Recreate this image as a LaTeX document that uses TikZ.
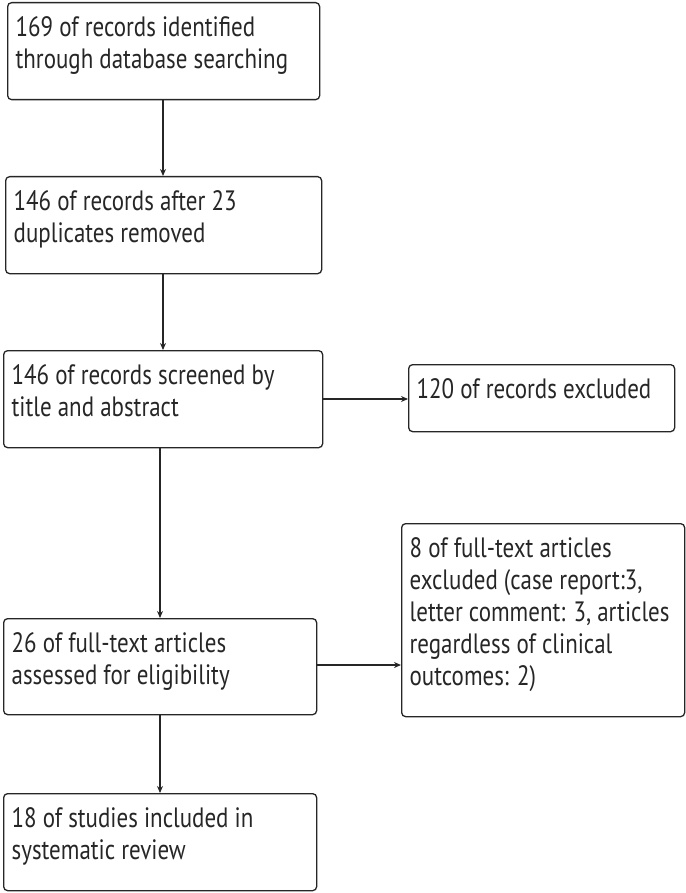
\documentclass[tikz,border=0pt]{standalone}
\usepackage{fontspec}
\setmainfont{PT Sans}[FakeStretch=0.82]
\usetikzlibrary{arrows.meta}
\tikzset{
  box/.style={draw=black!85, rounded corners=4pt, line width=1.3pt, anchor=north west,
    inner xsep=8pt, inner ysep=0pt, align=left, text=black!85},
  arr/.style={line width=1.3pt, draw=black!85, -{Stealth[length=7pt,width=6pt]}}
}
\newcommand{\bx}[3]{\parbox[b][#2pt][t]{#1pt}{\fontsize{28}{32}\selectfont\vspace{14pt}#3}}
\begin{document}
\begin{tikzpicture}[x=1pt,y=-1pt]
\useasboundingbox (0,0) rectangle (685,893);
\node[box] (b1) at (7,2)   {\bx{296}{97}{169 of records identified\\through database searching}};
\node[box] (b2) at (5,176) {\bx{300}{97}{146 of records after 23\\duplicates removed}};
\node[box] (b3) at (3,350) {\bx{303}{97}{146 of records screened by\\title and abstract}};
\node[box] (b4) at (408,364) {\bx{250}{67}{120 of records excluded}};
\node[box] (b5) at (401,523) {\bx{267}{193}{8 of full-text articles\\excluded (case report:3,\\letter comment: 3, articles\\regardless of clinical\\outcomes: 2)}};
\node[box] (b6) at (3,618) {\bx{297}{96}{26 of full-text articles\\assessed for eligibility}};
\node[box] (b7) at (3,793) {\bx{297}{97}{18 of studies included in\\systematic review}};
\draw[arr] (b1.south -| 163,0) -- (b2.north -| 163,0);
\draw[arr] (b2.south -| 163,0) -- (b3.north -| 163,0);
\draw[arr] (b3.south -| 160,0) -- (b6.north -| 160,0);
\draw[arr] (b6.south -| 160,0) -- (b7.north -| 160,0);
\draw[arr] (b3.east |- 0,399) -- (b4.west |- 0,399);
\draw[arr] (b6.east |- 0,665) -- (b5.west |- 0,665);
\end{tikzpicture}
\end{document}
